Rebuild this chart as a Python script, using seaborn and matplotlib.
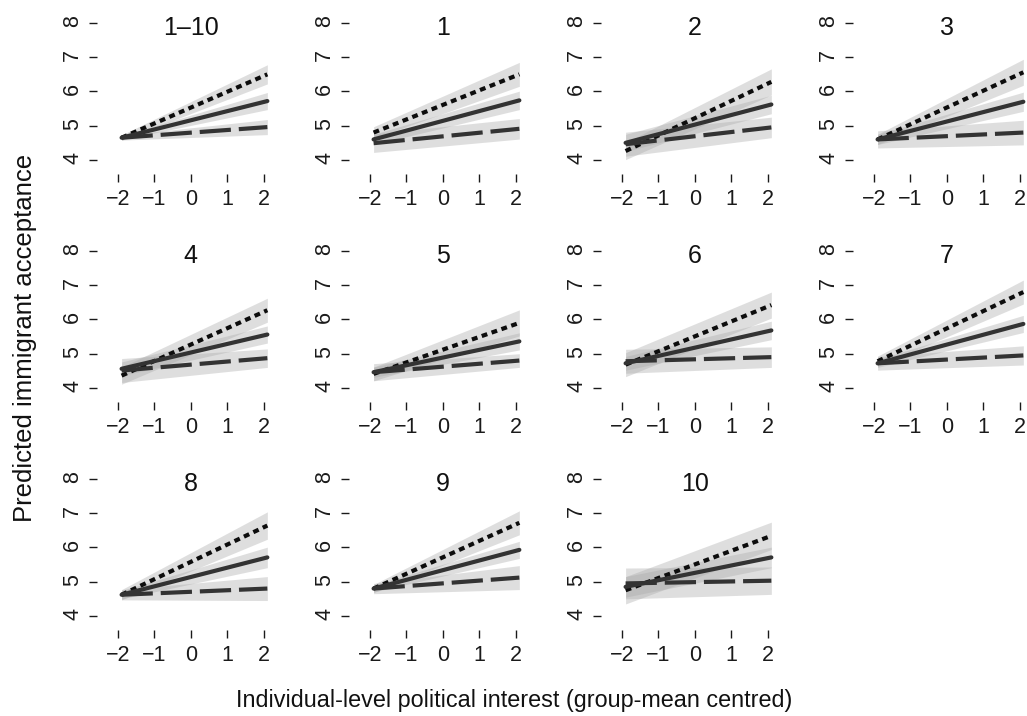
import numpy as np
import pandas as pd
import matplotlib
matplotlib.use("Agg")
import matplotlib.pyplot as plt
import seaborn as sns

# panel titles
panels = ["1–10", "1", "2", "3", "4", "5", "6", "7", "8", "9", "10"]
x_range = [-1.9, 2.1]

# predicted values at the left / right end of each line
dotted_start = [4.65, 4.80, 4.26, 4.60, 4.36, 4.41, 4.68, 4.78, 4.62, 4.80, 4.75]
dotted_end = [6.50, 6.50, 6.28, 6.56, 6.27, 5.90, 6.42, 6.80, 6.64, 6.72, 6.34]
solid_start = [4.65, 4.60, 4.50, 4.60, 4.56, 4.46, 4.72, 4.72, 4.62, 4.80, 4.85]
solid_end = [5.72, 5.74, 5.62, 5.70, 5.56, 5.36, 5.68, 5.87, 5.71, 5.93, 5.71]
dashed_start = [4.65, 4.49, 4.46, 4.60, 4.51, 4.46, 4.78, 4.72, 4.62, 4.80, 4.95]
dashed_end = [4.96, 4.91, 4.95, 4.80, 4.87, 4.80, 4.90, 4.95, 4.80, 5.12, 5.03]

# half widths of the confidence bands (left end, right end)
dotted_hw0 = [0.08, 0.17, 0.25, 0.15, 0.25, 0.20, 0.35, 0.15, 0.15, 0.12, 0.40]
dotted_hw1 = [0.28, 0.35, 0.38, 0.38, 0.35, 0.38, 0.38, 0.35, 0.40, 0.35, 0.40]
solid_hw0 = [0.06, 0.15, 0.25, 0.15, 0.20, 0.15, 0.20, 0.12, 0.12, 0.10, 0.30]
solid_hw1 = [0.25, 0.27, 0.27, 0.28, 0.25, 0.25, 0.27, 0.25, 0.30, 0.25, 0.30]
dashed_hw0 = [0.07, 0.27, 0.35, 0.25, 0.35, 0.25, 0.35, 0.20, 0.15, 0.15, 0.45]
dashed_hw1 = [0.22, 0.30, 0.30, 0.36, 0.27, 0.20, 0.30, 0.28, 0.35, 0.35, 0.40]

series = ["dotted", "solid", "dashed"]
colors = {"dotted": "#0d0d0d", "solid": "#333333", "dashed": "#333333"}
dash_styles = {"dotted": (1.4, 1.1), "solid": "", "dashed": (7.5, 1.9)}

sns.set_style("ticks")
plt.rcParams["font.family"] = ["Liberation Sans", "DejaVu Sans"]

rows = []
for i, p in enumerate(panels):
    for s, y0, y1, h0, h1 in [("dotted", dotted_start, dotted_end, dotted_hw0, dotted_hw1),
                              ("solid", solid_start, solid_end, solid_hw0, solid_hw1),
                              ("dashed", dashed_start, dashed_end, dashed_hw0, dashed_hw1)]:
        rows.append(dict(panel=p, series=s, x=x_range[0], y=y0[i], lo=y0[i] - h0[i], hi=y0[i] + h0[i]))
        rows.append(dict(panel=p, series=s, x=x_range[1], y=y1[i], lo=y1[i] - h1[i], hi=y1[i] + h1[i]))
df = pd.DataFrame(rows)

W, H = 1027, 716
fig = plt.figure(figsize=(W / 100, H / 100), dpi=100)

for i, p in enumerate(panels):
    r, c = divmod(i, 4)
    left = 97 + 252 * c
    bottom = 174 + 228 * r
    ax = fig.add_axes([left / W, 1 - bottom / H, 174 / W, 161.3 / H])
    sub = df[df.panel == p]
    for s in series:
        d = sub[sub.series == s]
        ax.fill_between(d.x, d.lo, d.hi, color="#aaaaaa", alpha=0.38, lw=0)
    sns.lineplot(data=sub, x="x", y="y", hue="series", style="series",
                 palette=colors, dashes=dash_styles, linewidth=3.0,
                 errorbar=None, legend=False, ax=ax)
    ax.set_xlim(-2.575, 2.2)
    ax.set_ylim(3.59, 8.3)
    ax.set_xticks([-2, -1, 0, 1, 2])
    ax.set_yticks([4, 5, 6, 7, 8])
    for sp in ax.spines.values():
        sp.set_visible(False)
    ax.tick_params(length=6, width=1, labelsize=15.5, colors="#1a1a1a", pad=4)
    ax.tick_params(axis="x", pad=5)
    ax.tick_params(axis="y", labelrotation=90)
    ax.set_xlabel("")
    ax.set_ylabel("")
    ax.text(0, 7.86, p, ha="center", va="center", fontsize=18, color="#111111")

fig.text(25 / W, 1 - 338 / H, "Predicted immigrant acceptance", rotation=90,
         ha="center", va="center", fontsize=18.5, color="#111111")
fig.text(514 / W, 1 - 700 / H, "Individual-level political interest (group-mean centred)",
         ha="center", va="center", fontsize=16.8, color="#111111")

fig.savefig("out.png", dpi=100)
